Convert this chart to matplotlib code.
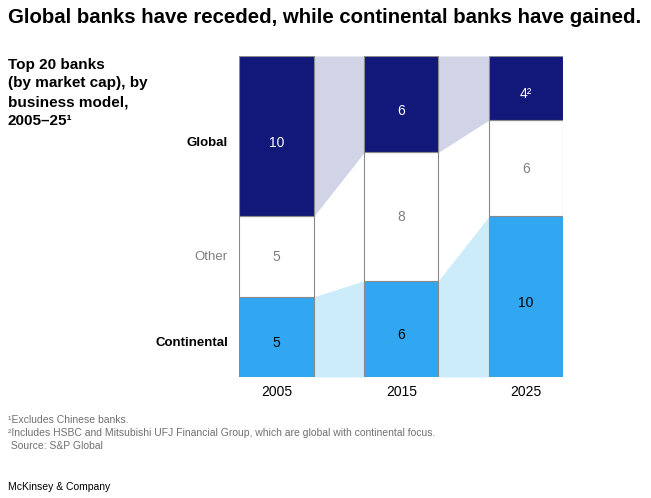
import numpy as np
import matplotlib.pyplot as plt

plt.rcParams['font.family'] = ['Liberation Sans', 'DejaVu Sans']

years = ['2005', '2015', '2025']
global_vals = [10, 6, 4]
other_vals = [5, 8, 6]
continental_vals = [5, 6, 10]
global_labels = ['10', '6', '4²']

c_global = '#12177a'
c_cont = '#31a7f2'
c_global_band = '#d0d4e6'
c_cont_band = '#cdecfa'
edge = '#8a8a8a'

fig = plt.figure(figsize=(6.51, 4.98), dpi=100)
ax = fig.add_axes([0.3674, 0.243, 0.498, 0.6446])
x = np.arange(len(years))
w = 0.595

cont = np.array(continental_vals)
oth = np.array(other_vals)
glb = np.array(global_vals)
top_other = cont + oth
total = cont + oth + glb

# bands between bars
for i in range(len(years) - 1):
    xs = [x[i] + w / 2, x[i + 1] - w / 2]
    ax.fill_between(xs, [top_other[i], top_other[i + 1]], [total[i], total[i + 1]],
                    color=c_global_band, lw=0, zorder=1)
    ax.fill_between(xs, [0, 0], [cont[i], cont[i + 1]],
                    color=c_cont_band, lw=0, zorder=1)

ax.bar(x, cont, w, color=c_cont, edgecolor=edge, lw=0.8, zorder=2)
ax.bar(x, oth, w, bottom=cont, color='white', edgecolor=edge, lw=0.8, zorder=2)
ax.bar(x, glb, w, bottom=top_other, color=c_global, edgecolor=edge, lw=0.8, zorder=2)

dy = 0.4  # labels sit a little below the segment middle
for i in range(len(years)):
    ax.text(x[i], cont[i] / 2 - dy, str(continental_vals[i]), ha='center', va='center',
            fontsize=10, color='black', zorder=3)
    ax.text(x[i], cont[i] + oth[i] / 2 - 0.05, str(other_vals[i]), ha='center', va='center',
            fontsize=10, color='#808080', zorder=3)
    ax.text(x[i], top_other[i] + glb[i] / 2 - dy, global_labels[i], ha='center', va='center',
            fontsize=10, color='white', zorder=3)

ax.set_xlim(-0.3, 2.3)
ax.set_ylim(0, 20)
ax.set_xticks(x)
ax.set_xticklabels(years, fontsize=10)
ax.tick_params(axis='x', length=0, pad=6)
ax.set_yticks([])
for s in ax.spines.values():
    s.set_visible(False)

# row labels on the left, aligned with 2005 segments
lx = -0.39
ax.text(lx, top_other[0] + glb[0] / 2 - dy, 'Global', ha='right', va='center',
        fontsize=9.5, fontweight='bold')
ax.text(lx, cont[0] + oth[0] / 2 - 0.05, 'Other', ha='right', va='center',
        fontsize=9.5, color='#808080')
ax.text(lx, cont[0] / 2 - dy, 'Continental', ha='right', va='center',
        fontsize=9.5, fontweight='bold')

fig.text(0.012, 0.964, 'Global banks have receded, while continental banks have gained.',
         fontsize=14.7, fontweight='bold', va='center')
fig.text(0.012, 0.884, 'Top 20 banks\n(by market cap), by\nbusiness model,\n2005–25¹',
         fontsize=11, fontweight='bold', va='top', linespacing=1.42)
fig.text(0.012, 0.166, '¹Excludes Chinese banks.\n²Includes HSBC and Mitsubishi UFJ Financial Group, '
         'which are global with continental focus.\n Source: S&P Global',
         fontsize=7.5, color='#707070', va='top', linespacing=1.33)
fig.text(0.012, 0.022, 'McKinsey & Company', fontsize=7.5, va='center')

fig.savefig('out.png', dpi=100)
